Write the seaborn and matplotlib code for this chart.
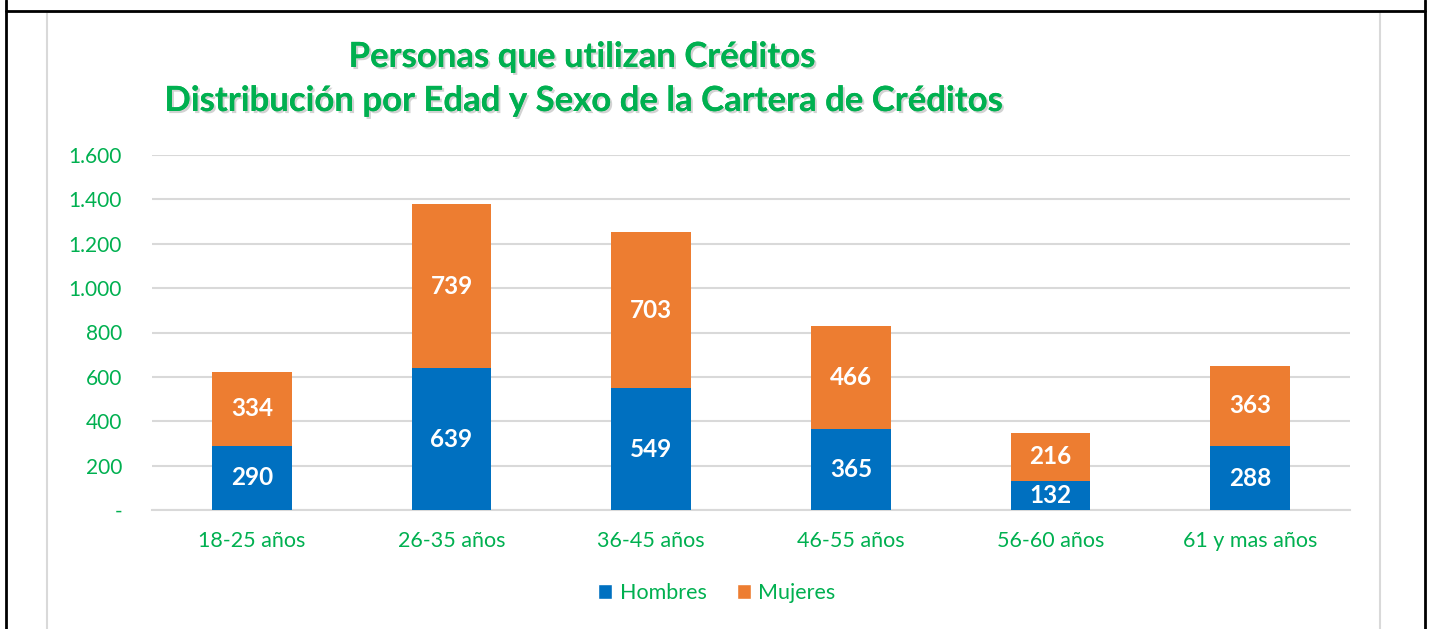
import matplotlib
matplotlib.use("Agg")
import matplotlib.pyplot as plt
import matplotlib.patheffects as pe
from matplotlib.lines import Line2D
from matplotlib.patches import Patch
from matplotlib.ticker import FuncFormatter, MultipleLocator
import numpy as np
import pandas as pd
import seaborn as sns

categorias = ["18-25 años", "26-35 años", "36-45 años", "46-55 años", "56-60 años", "61 y mas años"]
hombres = [290, 639, 549, 365, 132, 288]
mujeres = [334, 739, 703, 466, 216, 363]

AZUL = "#0070C0"
NARANJA = "#ED7D31"
VERDE = "#00B050"
GRIS = "#D9D9D9"

sns.set_theme(style="white")
plt.rcParams["font.family"] = ["Lato", "DejaVu Sans"]

df = pd.DataFrame({"edad": categorias, "Hombres": hombres, "Mujeres": mujeres})
df["total"] = df["Hombres"] + df["Mujeres"]

W, H = 1431, 629
fig = plt.figure(figsize=(W / 100, H / 100), dpi=100)
ax = fig.add_axes([152 / W, (H - 510) / H, 1198 / W, 355 / H])

# stacked bars: full height in orange, male share in blue over it
sns.barplot(data=df, x="edad", y="total", color=NARANJA, width=0.4,
            saturation=1, ax=ax, zorder=3, linewidth=0)
sns.barplot(data=df, x="edad", y="Hombres", color=AZUL, width=0.4,
            saturation=1, ax=ax, zorder=3, linewidth=0)

ax.set_ylim(0, 1600)
ax.set_xlim(-0.5, len(categorias) - 0.5)
ax.yaxis.set_major_locator(MultipleLocator(200))
ax.yaxis.set_major_formatter(FuncFormatter(
    lambda v, _: "-" if v == 0 else f"{int(v):,}".replace(",", ".")))
ax.grid(axis="y", color=GRIS, linewidth=1.5, zorder=0)
ax.grid(axis="x", visible=False)
for s in ["top", "right", "left"]:
    ax.spines[s].set_visible(False)
ax.spines["bottom"].set_color(GRIS)
ax.spines["bottom"].set_linewidth(1.5)
ax.set_xlabel("")
ax.set_ylabel("")
ax.tick_params(axis="both", length=0, labelcolor=VERDE)
ax.tick_params(axis="y", pad=21.5, labelsize=15)
ax.tick_params(axis="x", pad=15, labelsize=15.5)

# value labels centred in each segment
for i, (h, m) in enumerate(zip(hombres, mujeres)):
    ax.text(i, h / 2, f"{h}", ha="center", va="center", color="white",
            fontsize=17.5, fontweight="bold", zorder=5)
    ax.text(i, h + m / 2, f"{m}", ha="center", va="center", color="white",
            fontsize=17.5, fontweight="bold", zorder=5)

sombra = [pe.withSimplePatchShadow(offset=(1.5, -1.5), shadow_rgbFace="#7f7f7f", alpha=0.35),
          pe.Normal()]
fig.text(582 / W, 1 - 57 / H, "Personas que utilizan Créditos", ha="center", va="center",
         color=VERDE, fontsize=25, fontweight="bold", path_effects=sombra)
fig.text(584 / W, 1 - 101 / H, "Distribución por Edad y Sexo de la Cartera de Créditos",
         ha="center", va="center", color=VERDE, fontsize=25, fontweight="bold",
         path_effects=sombra)

handles = [Patch(facecolor=AZUL, label="Hombres"), Patch(facecolor=NARANJA, label="Mujeres")]
leg = fig.legend(handles=handles, loc="center", bbox_to_anchor=(717 / W, 1 - 593 / H),
                 ncol=2, frameon=False, fontsize=15.5, handlelength=0.65, handleheight=0.65,
                 handletextpad=0.35, columnspacing=1.4)
for t in leg.get_texts():
    t.set_color(VERDE)

# chart area border and surrounding cell frame
fig.add_artist(Line2D([47 / W, 47 / W], [0, 1 - 12 / H], color=GRIS, lw=1.5))
fig.add_artist(Line2D([1380 / W, 1380 / W], [0, 1 - 12 / H], color=GRIS, lw=1.5))
fig.add_artist(Line2D([47 / W, 1380 / W], [1 - 12 / H, 1 - 12 / H], color=GRIS, lw=1.5))
fig.add_artist(Line2D([6 / W, 1424.5 / W], [1 - 10.5 / H, 1 - 10.5 / H], color="black", lw=2))
fig.add_artist(Line2D([6 / W, 6 / W], [0, 1], color="black", lw=2))
fig.add_artist(Line2D([1424.5 / W, 1424.5 / W], [0, 1], color="black", lw=2))

fig.savefig("out.png", dpi=100, facecolor="white")
